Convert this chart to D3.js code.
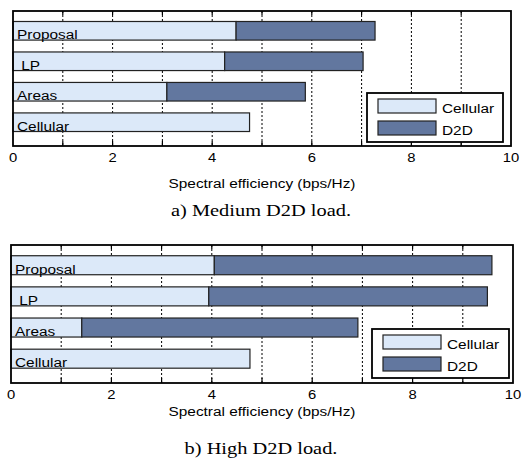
<!DOCTYPE html>
<html>
<head>
<meta charset="utf-8">
<script src="https://cdn.jsdelivr.net/npm/d3@7"></script>
<style>
  body { margin: 0; background: #fff; }
  svg text { white-space: pre; }
</style>
</head>
<body>
<svg width="522" height="466"></svg>
<script>
var width = 522;
var height = 466;

// data
var categories = ["Proposal", " LP", "Areas", "Cellular"];
var mediumCellular = [4.48, 4.25, 3.09, 4.75];
var mediumD2D = [2.79, 2.78, 2.78, 0];
var highCellular = [4.05, 3.94, 1.41, 4.76];
var highD2D = [5.53, 5.55, 5.50, 0];
var xTicks = [0, 2, 4, 6, 8, 10];
var gridValues = [1, 2, 3, 4, 5, 6, 7, 8, 9];
var seriesNames = ["Cellular", "D2D"];
var axisTitle = "Spectral efficiency (bps/Hz)";
var captions = ["a) Medium D2D load.", "b) High D2D load."];

var colCell = "#dce9f9";
var colD2D = "#62779f";
var stretch = 1.14;

var svg = d3.select("svg");
svg.append("rect").attr("width", width).attr("height", height).attr("fill", "#fff");

//----------------------------------------------------------------------------------------------------------------------
// one panel
//----------------------------------------------------------------------------------------------------------------------
function stretchedText(g, x, y, txt, opts) {
    var t = g.append("g")
        .attr("transform", "translate(" + x + "," + y + ") scale(" + (opts.sx || stretch) + ",1)")
        .append("text")
        .attr("text-anchor", opts.anchor || "start")
        .attr("font-family", opts.family || "Arial, 'Liberation Sans', sans-serif")
        .attr("font-size", opts.size || 13.5)
        .attr("fill", "#000")
        .text(txt);
    return t;
}

function drawPanel(p) {
    var g = svg.append("g");
    var x = d3.scaleLinear().domain([0, 10]).range([p.left, p.right]);
    var y = d3.scaleBand().domain(categories).range([p.top, p.bottom])
        .paddingInner(0.39).paddingOuter(0.41).align(0.42);

    // dotted grid
    g.selectAll(".grid").data(gridValues).enter().append("line")
        .attr("x1", d => x(d)).attr("x2", d => x(d))
        .attr("y1", p.top).attr("y2", p.bottom)
        .attr("stroke", "#000").attr("stroke-width", 1)
        .attr("stroke-dasharray", "2,2");

    // ticks top and bottom, pointing inward
    g.selectAll(".tb").data(gridValues).enter().append("line")
        .attr("x1", d => x(d)).attr("x2", d => x(d))
        .attr("y1", p.bottom).attr("y2", p.bottom - 5)
        .attr("stroke", "#000").attr("stroke-width", 1.2);
    g.selectAll(".tt").data(gridValues).enter().append("line")
        .attr("x1", d => x(d)).attr("x2", d => x(d))
        .attr("y1", p.top).attr("y2", p.top + 4)
        .attr("stroke", "#000").attr("stroke-width", 1.2);

    // bars
    var rows = categories.map((c, i) => ({cat: c, cell: p.cell[i], d2d: p.d2d[i]}));
    g.selectAll(".cell").data(rows).enter().append("rect")
        .attr("x", x(0)).attr("y", d => y(d.cat))
        .attr("width", d => x(d.cell) - x(0)).attr("height", y.bandwidth())
        .attr("fill", colCell).attr("stroke", "#222").attr("stroke-width", 1.2);
    g.selectAll(".d2d").data(rows.filter(d => d.d2d > 0)).enter().append("rect")
        .attr("x", d => x(d.cell)).attr("y", d => y(d.cat))
        .attr("width", d => x(d.cell + d.d2d) - x(d.cell)).attr("height", y.bandwidth())
        .attr("fill", colD2D).attr("stroke", "#222").attr("stroke-width", 1.2);

    // category labels inside the bars
    rows.forEach(function(d) {
        stretchedText(g, p.left + 4, y(d.cat) + y.bandwidth() - 1, d.cat, {});
    });

    // frame
    g.append("rect")
        .attr("x", p.left).attr("y", p.top)
        .attr("width", p.right - p.left).attr("height", p.bottom - p.top)
        .attr("fill", "none").attr("stroke", "#000").attr("stroke-width", 1.8);

    // tick labels
    xTicks.forEach(function(t) {
        stretchedText(g, x(t), p.bottom + 16, String(t), {anchor: "middle", size: 13});
    });
    stretchedText(g, (p.left + p.right) / 2, p.bottom + p.titleGap, axisTitle, {anchor: "middle", size: 13.5});
    stretchedText(g, 261, p.caption, p.title, {anchor: "middle", size: 17,
        family: "'Times New Roman', 'Liberation Serif', serif", sx: 1.2});

    // legend
    var L = p.legend;
    g.append("rect").attr("x", L.x).attr("y", L.y).attr("width", L.w).attr("height", L.h)
        .attr("fill", "#fff").attr("stroke", "#000").attr("stroke-width", 1.8);
    [colCell, colD2D].forEach(function(c, i) {
        var sy = L.y + 6 + i * 22;
        g.append("rect").attr("x", L.x + 11).attr("y", sy).attr("width", 58).attr("height", 14)
            .attr("fill", c).attr("stroke", "#222").attr("stroke-width", 1.2);
        stretchedText(g, L.x + 75, sy + 14, seriesNames[i], {size: 13.5});
    });
}

drawPanel({left: 13, right: 511, top: 11, bottom: 146, cell: mediumCellular, d2d: mediumD2D,
    title: captions[0], caption: 216, titleGap: 42, legend: {x: 367, y: 93, w: 136, h: 49}});
drawPanel({left: 11, right: 513, top: 245, bottom: 383, cell: highCellular, d2d: highD2D,
    title: captions[1], caption: 454, titleGap: 33, legend: {x: 372, y: 329, w: 137, h: 49}});
</script>
</body>
</html>
